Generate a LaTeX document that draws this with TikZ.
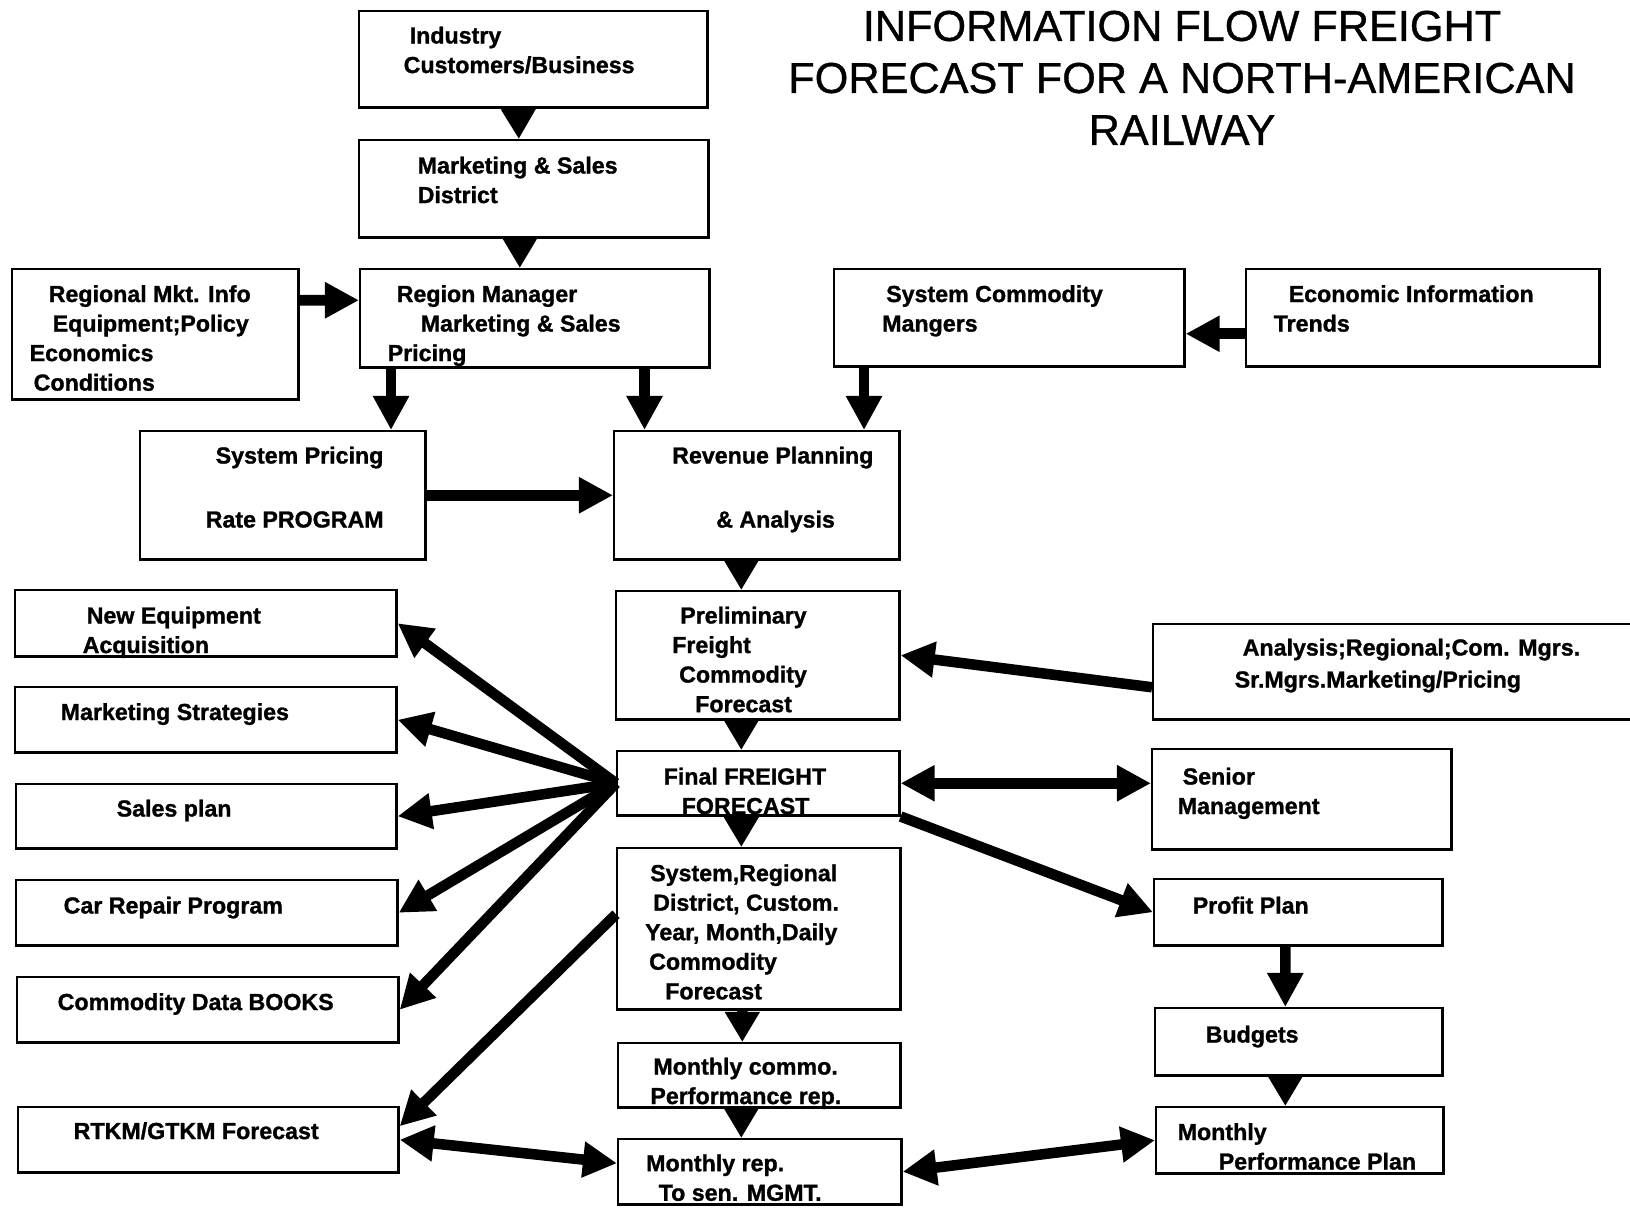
\documentclass[tikz,border=0pt]{standalone}
\usepackage{fontspec}
\setmainfont{Liberation Sans}[BoldFeatures={FakeBold=1.2}]
\newfontfamily\titlefont{Liberation Sans}[FakeBold=0.8]
\usepackage{tikz}
\usetikzlibrary{arrows.meta}
\usetikzlibrary{positioning}
\usetikzlibrary{calc}

\tikzset{
  flowbox/.style={draw, line width=0.7pt, inner sep=0pt, anchor=north west},
  flowtext/.style={anchor=north west, inner sep=0pt, align=left, font=\fontsize{6.6}{8.4}\selectfont\bfseries},
  flowarrow/.style={line width=3pt, -{Triangle[length=0.34cm, width=0.34cm]}},
  flowhead/.style={line width=3pt, -{Triangle[length=0.3cm, width=0.33cm]}},
  flowboth/.style={line width=3pt, {Triangle[length=0.34cm, width=0.34cm]}-{Triangle[length=0.34cm, width=0.34cm]}},
}

\begin{document}
\begin{tikzpicture}[x=0.01cm, y=-0.01cm]
    \useasboundingbox (0,0) rectangle (1630,1212);
    \clip (0,0) rectangle (1630,1212);

    \node[inner sep=0pt, anchor=north, align=center, font=\titlefont\fontsize{12.3}{14.8}\selectfont] (title) at (1182,10) {INFORMATION FLOW FREIGHT\\FORECAST FOR A NORTH-AMERICAN\\RAILWAY};

    \node[flowbox, minimum width=3.48cm, minimum height=0.96cm] (ind) at (358,10) {};
    \node[flowbox, minimum width=3.49cm, minimum height=0.97cm] (mkt) at (358,139) {};
    \node[flowbox, minimum width=3.49cm, minimum height=0.98cm] (reg) at (359,268) {};
    \node[flowbox, minimum width=2.86cm, minimum height=1.30cm] (rmi) at (11,268) {};
    \node[flowbox, minimum width=3.50cm, minimum height=0.97cm] (scm) at (833,268) {};
    \node[flowbox, minimum width=3.53cm, minimum height=0.97cm] (eco) at (1245,268) {};
    \node[flowbox, minimum width=2.85cm, minimum height=1.28cm] (spr) at (139,430) {};
    \node[flowbox, minimum width=2.85cm, minimum height=1.28cm] (rev) at (613,430) {};
    \node[flowbox, minimum width=2.83cm, minimum height=1.28cm] (pre) at (615,590) {};
    \node[flowbox, minimum width=4.88cm, minimum height=0.95cm] (ana) at (1152,623) {};
    \node[flowbox, minimum width=2.82cm, minimum height=0.64cm] (fin) at (616,750) {};
    \node[flowbox, minimum width=2.99cm, minimum height=1.00cm] (sen) at (1151,748) {};
    \node[flowbox, minimum width=2.83cm, minimum height=1.61cm] (sys) at (616,847) {};
    \node[flowbox, minimum width=2.88cm, minimum height=0.66cm] (pro) at (1153,878) {};
    \node[flowbox, minimum width=2.87cm, minimum height=0.67cm] (bud) at (1154,1007) {};
    \node[flowbox, minimum width=2.82cm, minimum height=0.64cm] (mcp) at (617,1042) {};
    \node[flowbox, minimum width=2.83cm, minimum height=0.65cm] (mrp) at (617,1138) {};
    \node[flowbox, minimum width=2.87cm, minimum height=0.66cm] (mpp) at (1155,1106) {};
    \node[flowbox, minimum width=3.81cm, minimum height=0.66cm] (neq) at (14,589) {};
    \node[flowbox, minimum width=3.81cm, minimum height=0.65cm] (mst) at (14,686) {};
    \node[flowbox, minimum width=3.80cm, minimum height=0.64cm] (spl) at (15,783) {};
    \node[flowbox, minimum width=3.81cm, minimum height=0.65cm] (car) at (15,879) {};
    \node[flowbox, minimum width=3.81cm, minimum height=0.65cm] (cdb) at (16,976) {};
    \node[flowbox, minimum width=3.80cm, minimum height=0.65cm] (rtk) at (17,1106) {};

    \node[flowtext] (ind-t) at (403,26) {\hspace*{0.06cm}Industry\\Customers/Business};
    \node[flowtext] (mkt-t) at (417,156) {Marketing \& Sales\\District};
    \node[flowtext] (reg-t) at (387,284.5) {\hspace*{0.09cm}Region Manager\\\hspace*{0.33cm}Marketing \& Sales\\Pricing};
    \node[flowtext] (rmi-t) at (29,284.5) {\hspace*{0.19cm}Regional Mkt. Info\\\hspace*{0.23cm}Equipment;Policy\\Economics\\\hspace*{0.04cm}Conditions};
    \node[flowtext] (scm-t) at (881.5,284.5) {\hspace*{0.04cm}System Commodity\\Mangers};
    \node[flowtext] (eco-t) at (1273,284.5) {\hspace*{0.15cm}Economic Information\\Trends};
    \node[flowtext] (spr-t) at (205,446) {\hspace*{0.10cm}System Pricing\\[9.8pt]Rate PROGRAM};
    \node[flowtext] (rev-t) at (671.5,446) {Revenue Planning\\[9.8pt]\hspace*{0.44cm}\& Analysis};
    \node[flowtext] (pre-t) at (671.5,606) {\hspace*{0.08cm}Preliminary\\Freight\\\hspace*{0.07cm}Commodity\\\hspace*{0.23cm}Forecast};
    \node[flowtext] (ana-t) at (1234,638) {\hspace*{0.08cm}Analysis;Regional;Com. Mgrs.\\[0.7pt]Sr.Mgrs.Marketing/Pricing};
    \node[flowtext] (fin-t) at (654,767) {\hspace*{0.09cm}Final FREIGHT\\\hspace*{0.27cm}FORECAST};
    \node[flowtext] (sen-t) at (1177,767) {\hspace*{0.05cm}Senior\\Management};
    \node[flowtext] (sys-t) at (644.5,863.6) {\hspace*{0.05cm}System,Regional\\\hspace*{0.08cm}District, Custom.\\Year, Month,Daily\\\hspace*{0.04cm}Commodity\\\hspace*{0.20cm}Forecast};
    \node[flowtext] (pro-t) at (1192,896) {Profit Plan};
    \node[flowtext] (bud-t) at (1205,1025) {Budgets};
    \node[flowtext] (mcp-t) at (649.7,1057) {\hspace*{0.03cm}Monthly commo.\\Performance rep.};
    \node[flowtext] (mrp-t) at (645.5,1153.7) {Monthly rep.\\\hspace*{0.125cm}To sen. MGMT.};
    \node[flowtext] (mpp-t) at (1177,1122.5) {Monthly\\\hspace*{0.41cm}Performance Plan};
    \node[flowtext] (neq-t) at (82,606) {\hspace*{0.04cm}New Equipment\\Acquisition};
    \node[flowtext] (mst-t) at (60,702.5) {Marketing Strategies};
    \node[flowtext] (spl-t) at (116,799) {Sales plan};
    \node[flowtext] (car-t) at (63,896) {Car Repair Program};
    \node[flowtext] (cdb-t) at (57,992.5) {Commodity Data BOOKS};
    \node[flowtext] (rtk-t) at (73,1121.5) {RTKM/GTKM Forecast};

    \coordinate (a1) at ([xshift=0.32cm]reg.south west);
    \coordinate (a2) at ([xshift=0.315cm]rev.north west);
    \coordinate (a3) at ([xshift=0.31cm]scm.south west);
    \coordinate (a4) at ([yshift=-0.16cm]eco.west);

    \draw[flowhead] ([xshift=-0.15cm]ind.south) -- ([xshift=-0.15cm]mkt.north);
    \draw[flowhead] ([xshift=-0.14cm]mkt.south) -- ([xshift=-0.15cm]reg.north);
    \draw[flowarrow] ([yshift=0.34cm]rmi.east) -- ([yshift=0.18cm]reg.west);
    \draw[flowarrow] (a1) -- (a1 |- spr.north);
    \draw[flowarrow] (a2 |- reg.south) -- (a2);
    \draw[flowarrow] (a3) -- (a3 |- rev.north);
    \draw[flowarrow] (a4) -- (a4 -| scm.east);
    \draw[flowarrow] (spr.east) -- (rev.west);
    \draw[flowhead] ([xshift=-0.155cm]rev.south) -- ([xshift=-0.165cm]pre.north);
    \draw[flowarrow] ([yshift=-0.155cm]ana.west) -- (pre.east);
    \draw[flowhead] ([xshift=-0.165cm]pre.south) -- ([xshift=-0.17cm]fin.north);
    \draw[flowboth] (fin.east) -- (fin.east -| sen.west);
    \draw[flowarrow] (fin.south east) -- (pro.west);
    \draw[flowhead] ([xshift=-0.17cm]fin.south) -- ([xshift=-0.175cm]sys.north);
    \foreach \t in {neq,mst,spl,car,cdb}
        \draw[flowarrow] (fin.west) -- (\t.east);
    \draw[flowarrow] ([yshift=0.145cm]sys.west) -- ([yshift=0.135cm]rtk.east);
    \draw[flowboth] (rtk.east) -- ([yshift=0.085cm]mrp.west);
    \draw[flowhead] ([xshift=-0.165cm]sys.south) -- ([xshift=-0.17cm]mcp.north);
    \draw[flowhead] ([xshift=-0.18cm]mcp.south) -- ([xshift=-0.185cm]mrp.north);
    \draw[flowarrow] ([xshift=-0.13cm]pro.south) -- ([xshift=-0.135cm]bud.north);
    \draw[flowhead] ([xshift=-0.135cm]bud.south) -- ([xshift=-0.145cm]mpp.north);
    \draw[flowboth] (mrp.east) -- (mpp.west);
\end{tikzpicture}
\end{document}
